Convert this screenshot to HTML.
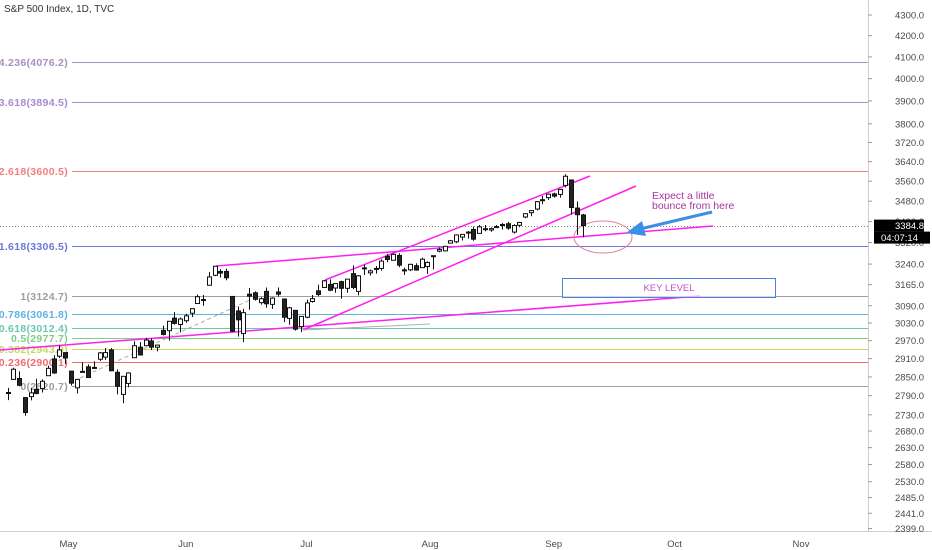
<!DOCTYPE html>
<html><head><meta charset="utf-8"><style>
html,body{margin:0;padding:0;background:#fff;}
svg{display:block;font-family:"Liberation Sans",sans-serif;}
</style></head><body>
<svg id="chart" width="932" height="550" viewBox="0 0 932 550">
<g id="grid"></g>
<g id="draw"></g>
<g id="candles"></g>
<g id="axis"></g>
<g id="taxis"></g>
<text x="4" y="12" font-size="10" fill="#333">S&amp;P 500 Index, 1D, TVC</text>
</svg>
<script>
const priceTicks=[4300,4200,4100,4000,3900,3800,3720,3640,3560,3480,3400,3320,3240,3165,3090,3030,2970,2910,2850,2790,2730,2680,2630,2580,2530,2485,2441,2399];
const timeLabels=["May","Jun","Jul","Aug","Sep","Oct","Nov"];
const timeLabelIdx=[10.6,31,52,73.5,95,116,138];
const fibNames=["4.236","3.618","2.618","1.618","1","0.786","0.618","0.5","0.382","0.236","0"];
const fibValues=[4076.2,3894.5,3600.5,3306.5,3124.7,3061.8,3012.4,2977.7,2943.0,2900.1,2820.7];
const fibColors=["#a88fc0","#a78bd0","#f08080","#6b78d6","#9e9e9e","#5fb3e0","#6cc7b0","#7ccf88","#c5d95a","#f26b6b","#9e9e9e"];
const opens=[2800,2842,2845,2784,2787,2810,2813,2854,2909,2918,2930,2869,2815,2868,2883,2878,2908,2915,2939,2865,2794,2829,2913,2948,2953,2969,2948,3005,3004,3047,3025,3038,3064,3098,3111,3163,3199,3213,3213,3123,3072,2994,3131,3136,3101,3141,3095,3139,3114,3046,3074,3018,3050,3105,3143,3155,3166,3153,3176,3152,3205,3141,3226,3208,3224,3224,3269,3254,3272,3219,3219,3234,3227,3231,3270,3288,3289,3318,3323,3341,3356,3370,3355,3372,3368,3380,3387,3392,3360,3386,3418,3435,3449,3486,3494,3509,3507,3543,3565,3453,3426];
const highs=[2815,2880,2868,2785,2815,2844,2842,2887,2921,2954,2930,2869,2844,2898,2891,2901,2932,2945,2945,2874,2852,2865,2968,2965,2980,2978,2957,3021,3036,3068,3049,3062,3081,3130,3128,3211,3233,3222,3223,3123,3088,3079,3153,3141,3120,3155,3120,3155,3115,3086,3074,3053,3112,3128,3165,3182,3184,3171,3179,3186,3235,3200,3238,3220,3233,3258,3278,3279,3280,3227,3241,3243,3264,3250,3272,3302,3306,3330,3351,3352,3364,3381,3387,3387,3378,3387,3395,3399,3390,3399,3432,3444,3481,3501,3509,3514,3528,3588,3565,3479,3430];
const lows=[2776,2842,2820,2727,2775,2794,2800,2854,2860,2912,2892,2822,2797,2863,2847,2876,2902,2906,2869,2794,2766,2817,2913,2922,2953,2938,2934,2988,2970,3024,2998,3031,3051,3098,3090,3163,3196,3191,3181,2999,2984,2965,3076,3108,3094,3083,3079,3122,3033,3024,3004,2999,3047,3101,3124,3155,3142,3136,3115,3136,3149,3127,3200,3198,3205,3216,3247,3253,3229,3200,3214,3216,3227,3204,3220,3284,3287,3317,3318,3328,3335,3327,3355,3363,3361,3379,3370,3369,3354,3379,3413,3421,3444,3468,3485,3494,3494,3535,3428,3349,3340];
const closes=[2800,2875,2823,2737,2799,2797,2836,2878,2863,2939,2912,2830,2842,2868,2848,2881,2929,2930,2870,2820,2852,2863,2953,2922,2972,2948,2955,2991,3036,3029,3044,3055,3080,3122,3112,3193,3232,3207,3190,3002,3041,3066,3124,3113,3115,3097,3117,3131,3050,3083,3009,3053,3100,3115,3130,3179,3145,3169,3152,3185,3155,3197,3226,3215,3224,3251,3257,3276,3236,3215,3239,3218,3258,3246,3271,3294,3306,3327,3349,3351,3360,3333,3380,3373,3373,3381,3389,3375,3385,3397,3431,3443,3478,3484,3508,3500,3527,3580,3455,3427,3385];
const lastPrice=3384.8;

const NS="http://www.w3.org/2000/svg";
const Y=p=>15+(Math.log(4300)-Math.log(p))*880;
const X=i=>7.5+i*5.75;
const PLOT_R=868;
function mk(tag,attrs,parent){const e=document.createElementNS(NS,tag);for(const k in attrs)e.setAttribute(k,attrs[k]);parent.appendChild(e);return e;}
const grid=document.getElementById('grid'),draw=document.getElementById('draw'),cg=document.getElementById('candles'),ax=document.getElementById('axis'),tx=document.getElementById('taxis');

fibValues.forEach((v,i)=>{
  const y=Math.round(Y(v))+0.5;
  const l=mk('line',{x1:72,x2:PLOT_R,y1:y,y2:y,stroke:fibColors[i],'stroke-width':1},grid);
  
  
  const t=mk('text',{x:68,y:y+3.5,'text-anchor':'end','font-size':10.5,'font-weight':'bold','letter-spacing':'0.3',fill:fibColors[i]},grid);
  t.textContent=fibNames[i]+'('+v.toFixed(1)+')';
  
  
});
{const y=Math.round(Y(lastPrice))+0.5;
const l=mk('line',{x1:0,x2:PLOT_R,y1:y,y2:y,stroke:'#888','stroke-dasharray':'1,2'},grid);

}

const pink="#ff1ff0";
[[0,350,700,296],[216,266,713,226],[303,330,636,186],[325,280,590,176]].forEach((s,i)=>{
  const l=mk('line',{x1:s[0],y1:s[1],x2:s[2],y2:s[3],stroke:pink,'stroke-width':1.5},draw);
  
  
});
{const l=mk('line',{x1:303,y1:330,x2:430,y2:324,stroke:'#aab0b0','stroke-width':1},draw);


const d=mk('line',{x1:80,y1:378,x2:250,y2:300,stroke:'#aaa','stroke-width':1,'stroke-dasharray':'4,3'},draw);


const e=mk('ellipse',{cx:603,cy:237,rx:29,ry:16,fill:'none',stroke:'#e0829a','stroke-width':1},draw);


const a=mk('line',{x1:712,y1:212,x2:640,y2:229,stroke:'#3d8fe6','stroke-width':3},draw);


const h=mk('polygon',{points:'626,233 642,221 646,236',fill:'#3d8fe6'},draw);


const t1=mk('text',{x:652,y:199,'font-size':10.5,fill:'#a8359c'},draw);t1.textContent='Expect a little';


const t2=mk('text',{x:652,y:209,'font-size':10.5,fill:'#a8359c'},draw);t2.textContent='bounce from here';


const r=mk('rect',{x:562.5,y:278.5,width:213,height:19,fill:'#fff','fill-opacity':0.6,stroke:'#4a7fe8','stroke-width':1},draw);


const kt=mk('text',{x:669,y:291,'text-anchor':'middle','font-size':9.5,fill:'#c050c8'},draw);kt.textContent='KEY LEVEL';

}

closes.forEach((c,i)=>{
  const o=opens[i],x=Math.round(X(i))+0.5;
  const w=mk('line',{x1:x,x2:x,y1:Y(highs[i]),y2:Y(lows[i]),stroke:'#111','stroke-width':1},cg);
  
  
  const top=Y(Math.max(o,c)),bot=Y(Math.min(o,c));
  const b=mk('rect',{x:x-2,y:top,width:4,height:Math.max(1,bot-top),fill:c<o?'#222':'#fff',stroke:'#111','stroke-width':1},cg);
  
  
});

{const l=mk('line',{x1:868.5,x2:868.5,y1:0,y2:531,stroke:'#cfcfcf'},ax);


const b=mk('line',{x1:0,x2:932,y1:531.5,y2:531.5,stroke:'#cfcfcf'},ax);

}
priceTicks.forEach(p=>{
  const y=Y(p);
  const tk=mk('line',{x1:868,x2:872,y1:y,y2:y,stroke:'#999'},ax);
  
  
  const t=mk('text',{x:895,y:y+3.5,'font-size':9.5,fill:'#4a4a4a'},ax);
  t.textContent=p.toFixed(1);
  
  
});
{const y=Y(lastPrice);
const r=mk('rect',{x:874,y:y-6,width:50,height:12,fill:'#000'},ax);


const t=mk('text',{x:895,y:y+3.5,'font-size':9.5,fill:'#fff'},ax);t.textContent=lastPrice.toFixed(1);


const r2=mk('rect',{x:874,y:y+6,width:56,height:12,fill:'#000'},ax);


const t2=mk('text',{x:881,y:y+15.5,'font-size':9.5,fill:'#fff'},ax);t2.textContent='04:07:14';

}

timeLabels.forEach((m,i)=>{
  const x=X(timeLabelIdx[i]);
  const t=mk('text',{x:x,y:547,'text-anchor':'middle','font-size':9.5,fill:'#4a4a4a'},tx);
  t.textContent=m;
  
  
});
</script>
</body></html>
